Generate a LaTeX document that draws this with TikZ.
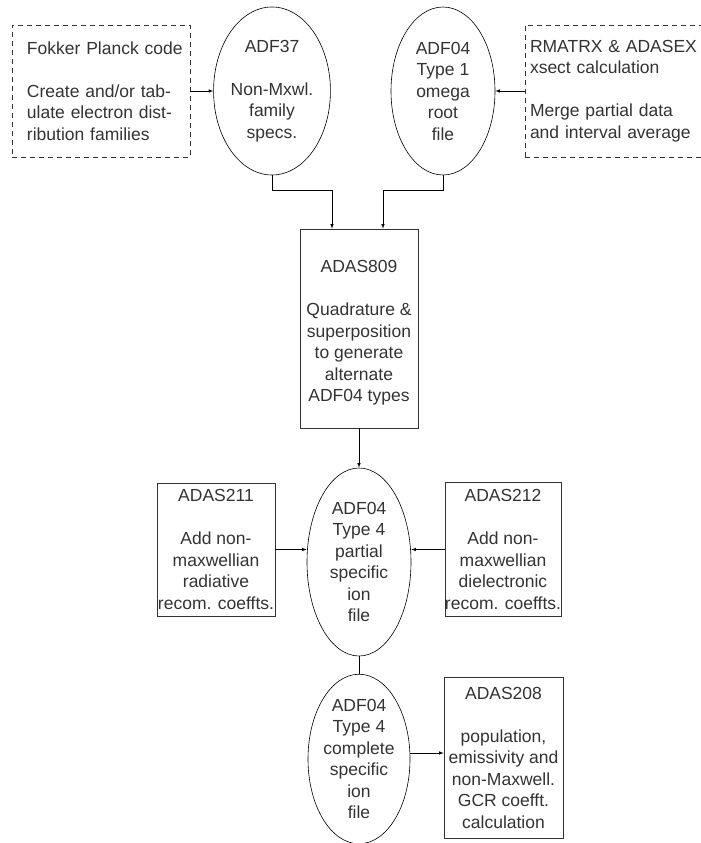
\documentclass[tikz,border=0pt]{standalone}
\usepackage{fontspec}
\setmainfont{Liberation Sans}
\usepackage{tikz}
\usetikzlibrary{shapes,arrows}

\begin{document}
\begin{tikzpicture}[>=latex,line width=0.6pt,node distance=171pt]
    \tikzstyle{every node}=[font=\fontsize{17.5}{21.5}\selectfont,text=black!80]
    \tikzstyle{file}=[ellipse,draw,align=center,inner sep=0pt,minimum width=104pt]
    \tikzstyle{prog}=[rectangle,draw=black!80,align=center,inner sep=0pt,minimum width=118pt]
    \tikzstyle{ext}=[rectangle,draw=black!80,dash pattern=on 5pt off 4pt,align=left,minimum height=132pt]

    \useasboundingbox (0,0) rectangle (701pt,-843pt);

    \node(fokker) [ext,text width=148pt,inner xsep=15pt] at (101pt,-91pt)
        {\mbox{Fokker Planck code}\\[21.5pt]\mbox{Create and/or tab-}\\\mbox{ulate electron dist-}\\\mbox{ribution families}};
    \node(adf37) [file,right of=fokker,minimum height=168pt]
        {ADF37\\[21.5pt]Non-Mxwl.\\family\\specs.};
    \node(adf04a) [file,right of=adf37,minimum height=168pt]
        {ADF04\\Type 1\\omega\\root\\file};
    \node(rmatrx) [ext,right of=adf04a,node distance=172.5pt,text width=171pt,inner xsep=5pt]
        {RMATRX \& ADASEX\\xsect calculation\\[21.5pt]Merge partial data\\and interval average};

    \node(adas809) [prog,minimum height=199pt] at (359pt,-328.5pt)
        {\mbox{}\\ADAS809\\[21.5pt]Quadrature \&\\superposition\\to generate\\alternate\\ADF04 types};
    \node(adf04b) [file,below of=adas809,node distance=233.5pt,minimum height=188pt]
        {ADF04\\Type 4\\partial\\specific\\ion\\file};
    \node(adf04c) [file,below of=adf04b,node distance=197pt,minimum height=164pt,minimum width=102pt]
        {ADF04\\Type 4\\complete\\specific\\ion\\file};

    \node(adas211) [prog,left of=adf04b,node distance=143pt,yshift=12.5pt,minimum height=133pt]
        {ADAS211\\[21.5pt]Add non-\\maxwellian\\radiative\\recom. coeffts.};
    \node(adas212) [prog,right of=adf04b,node distance=144pt,yshift=12.5pt,minimum height=134pt,minimum width=116pt]
        {ADAS212\\[21.5pt]Add non-\\maxwellian\\dielectronic\\recom. coeffts.};
    \node(adas208) [prog,right of=adf04c,node distance=144.5pt,yshift=1.5pt,minimum height=161pt,minimum width=119pt]
        {ADAS208\\[21.5pt]population,\\emissivity and\\non-Maxwell.\\GCR coefft.\\calculation};

    \draw [->] (fokker.east) -- (fokker.east -| adf37.west);
    \draw [->] (rmatrx.west) -- (rmatrx.west -| adf04a.east);
    \draw [->] (adf37.south) -- ++(0,-15pt) -| ([xshift=-27pt]adas809.north);
    \draw [->] (adf04a.south) -- ++(0,-15pt) -| ([xshift=24pt]adas809.north);
    \draw [->] (adas809) -- (adf04b);
    \draw [->] (adas211.east) -- (adas211.east -| adf04b.west);
    \draw [->] (adas212.west) -- (adas212.west -| adf04b.east);
    \draw (adf04b) -- (adf04c);
    \draw [->] ([yshift=6pt]adf04c.east) -- ([yshift=6pt]adf04c.east -| adas208.west);

\end{tikzpicture}
\end{document}
